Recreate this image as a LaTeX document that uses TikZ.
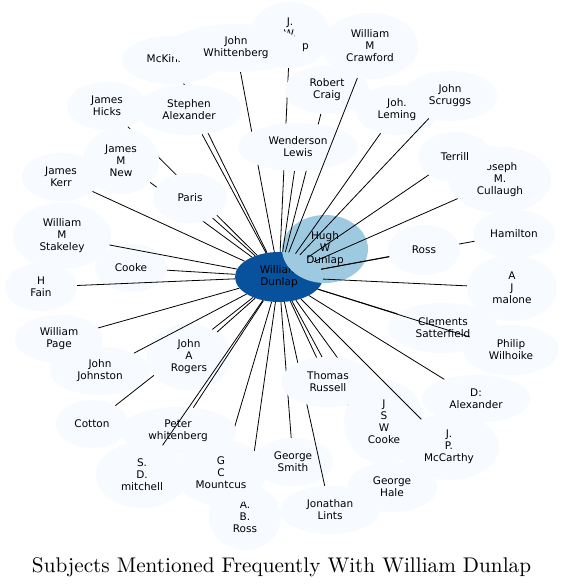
\documentclass[tikz,border=0pt]{standalone}
\usepackage{fontspec}
\newfontfamily\dejavu{DejaVu Sans}
\newfontfamily\titlefont{lmroman10-regular}[Extension=.otf]
\usetikzlibrary{shapes.geometric}
\definecolor{nfill}{HTML}{F7FBFF}
\definecolor{cfill}{HTML}{08519C}
\definecolor{hfill}{HTML}{9ECAE1}
\tikzset{
  subj/.style={ellipse, fill=nfill, inner sep=0pt, align=center,
    font=\dejavu\fontsize{10.5}{12}\selectfont},
  link/.style={draw=black, line width=0.8pt},
}
\newcommand\nd[6][nfill]{\node[subj, fill=#1, minimum width=#4pt, minimum height=#5pt] (#2) at (#3) {#6};}
\newcommand\lk[1]{\draw[link] (c) -- (#1);}
\begin{document}
\begin{tikzpicture}[x=1pt,y=-1pt]
\fill[white] (0,0) rectangle (565,588);
\useasboundingbox (0,0) rectangle (565,588);
\nd[cfill]{c}{279,277}{88}{50}{William\\Dunlap}
\nd[hfill]{hugh}{325,249}{86}{68}{Hugh\\W\\Dunlap}
\nd{mck}{172,60}{100}{48}{McKinney} \lk{mck}
\nd{jtop}{290,35}{80}{66}{J.\\W.\\Dunlap} \lk{jtop}
\nd{whit}{236,48}{134}{48}{John\\Whittenberg} \lk{whit}
\nd{steph}{189,110}{106}{50}{Stephen\\Alexander} \lk{steph}
\nd{rc}{327,90}{84}{48}{Robert\\Craig} \lk{rc}
\nd{wend}{298,147}{120}{48}{Wenderson\\Lewis} \lk{wend}
\nd{craw}{370,46}{96}{66}{William\\M\\Crawford} \lk{craw}
\nd{hicks}{107,106}{80}{48}{James\\Hicks} \lk{hicks}
\nd{new}{121,161}{76}{66}{James\\M\\New} \lk{new}
\nd{kerr}{61,177}{78}{48}{James\\Kerr} \lk{kerr}
\nd{paris}{190,198}{74}{50}{Paris} \lk{paris}
\nd{lem}{397,110}{84}{50}{Joh.\\Leming} \lk{lem}
\nd{scr}{450,96}{94}{50}{John\\Scruggs} \lk{scr}
\nd{jos}{500,180}{102}{66}{Joseph\\M.\\Cullaugh} \lk{jos}
\nd{terr}{455,157}{74}{50}{Terrill} \lk{terr}
\nd{ham}{514,234}{82}{48}{Hamilton} \lk{ham}
\nd{ross}{424,250}{72}{50}{Ross} \lk{ross}
\nd{mal}{512,288}{90}{66}{A\\J\\malone} \lk{mal}
\nd{clem}{443,328}{110}{50}{Clements\\Satterfield} \lk{clem}
\nd{phil}{511,350}{96}{50}{Philip\\Wilhoike} \lk{phil}
\nd{cooke}{131,268}{72}{48}{Cooke} \lk{cooke}
\nd{stak}{62,236}{98}{66}{William\\M\\Stakeley} \lk{stak}
\nd{fain}{41,287}{72}{48}{H\\Fain} \lk{fain}
\nd{page}{59,339}{88}{48}{William\\Page} \lk{page}
\nd{john}{100,371}{100}{48}{John\\Johnston}
\nd{cot}{92,424}{72}{48}{Cotton} \lk{cot}
\nd{rog}{189,357}{84}{66}{John\\A\\Rogers} \lk{rog} \lk{john}
\nd{gs}{293,462}{80}{48}{George\\Smith} \lk{gs}
\nd{hale}{392,487}{90}{50}{George\\Hale} \lk{hale}
\nd{lints}{330,510}{100}{48}{Jonathan\\Lints} \lk{lints}
\nd{jsw}{384,422}{80}{84}{J\\S\\W\\Cooke} \lk{jsw}
\nd{thom}{328,382}{94}{50}{Thomas\\Russell} \lk{thom}
\nd{dalex}{476,399}{108}{48}{D:\\Alexander} \lk{dalex}
\nd{mcc}{449,447}{100}{66}{J.\\P.\\McCarthy} \lk{mcc}
\nd{abr}{245,517}{72}{66}{A.\\B.\\Ross} \lk{abr}
\nd{gcm}{221,473}{90}{66}{G\\C\\Mountcus} \lk{gcm}
\nd{pet}{178,431}{116}{48}{Peter\\whitenberg} \lk{pet}
\nd{sd}{142,475}{92}{66}{S.\\D.\\mitchell} \lk{sd}
\node[font=\titlefont\fontsize{21.2}{25}\selectfont, anchor=base] (title) at (281.5,572) {Subjects Mentioned Frequently With William Dunlap};
\end{tikzpicture}
\end{document}
